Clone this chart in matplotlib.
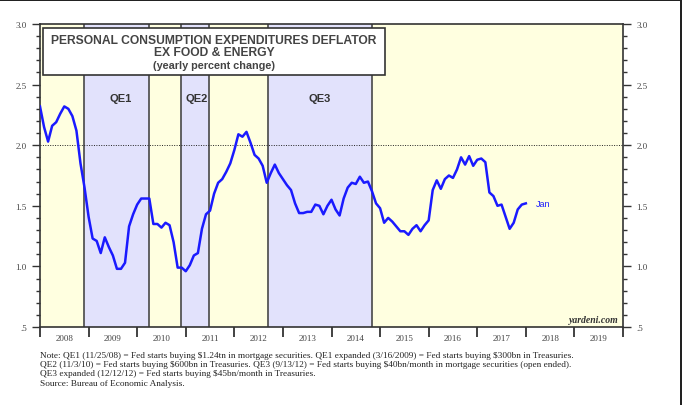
import matplotlib.pyplot as plt
import numpy as np
from matplotlib.patches import Rectangle
from matplotlib.ticker import MultipleLocator, FixedLocator, NullFormatter

# Core PCE deflator, y/y %, monthly Jan 2008 .. Jan 2018
pce_core = [
    2.32, 2.15, 2.03, 2.16, 2.19, 2.26, 2.32, 2.30, 2.24, 2.12, 1.85, 1.65,  # 2008
    1.41, 1.23, 1.21, 1.11, 1.24, 1.16, 1.09, 0.98, 0.98, 1.03, 1.33, 1.43,  # 2009
    1.51, 1.56, 1.56, 1.56, 1.35, 1.35, 1.32, 1.36, 1.34, 1.20, 0.99, 0.99,  # 2010
    0.96, 1.01, 1.09, 1.11, 1.31, 1.43, 1.46, 1.60, 1.69, 1.72, 1.78, 1.85,  # 2011
    1.96, 2.09, 2.07, 2.11, 2.02, 1.92, 1.89, 1.83, 1.69, 1.77, 1.84, 1.77,  # 2012
    1.72, 1.67, 1.63, 1.52, 1.44, 1.44, 1.45, 1.45, 1.51, 1.50, 1.43, 1.50,  # 2013
    1.55, 1.47, 1.42, 1.56, 1.65, 1.69, 1.68, 1.74, 1.69, 1.70, 1.62, 1.52,  # 2014
    1.48, 1.36, 1.40, 1.37, 1.33, 1.29, 1.29, 1.26, 1.31, 1.34, 1.29, 1.34,  # 2015
    1.38, 1.63, 1.71, 1.64, 1.72, 1.75, 1.73, 1.80, 1.90, 1.84, 1.91, 1.83,  # 2016
    1.88, 1.89, 1.86, 1.61, 1.58, 1.50, 1.51, 1.41, 1.31, 1.36, 1.47, 1.51,  # 2017
    1.52,                                                                    # 2018
]
dates = 2008 + np.arange(len(pce_core)) / 12.0

# QE programs (start, end) in decimal years
qe_labels = ["QE1", "QE2", "QE3"]
qe_start = [2008.90, 2010.90, 2012.70]
qe_end = [2010.25, 2011.48, 2014.83]
qe_label_x = [2009.65, 2011.23, 2013.76]

years = list(range(2008, 2020))

notes = (
    "Note: QE1 (11/25/08) = Fed starts buying $1.24tn in mortgage securities. "
    "QE1 expanded (3/16/2009) = Fed starts buying $300bn in Treasuries.\n"
    "QE2 (11/3/10) = Fed starts buying $600bn in Treasuries. "
    "QE3 (9/13/12) = Fed starts buying $40bn/month in mortgage securities (open ended).\n"
    "QE3 expanded (12/12/12) = Fed starts buying $45bn/month in Treasuries.\n"
    "Source: Bureau of Economic Analysis."
)

YELLOW = "#ffffe0"
LAVENDER = "#e2e2fc"
LINE = "#1a1aff"
GRAY = "#444444"

fig = plt.figure(figsize=(6.82, 4.06), dpi=100)
ax = fig.add_axes([40 / 682, 78 / 406, 583 / 682, 303 / 406])
ax.set_facecolor(YELLOW)

ax.set_xlim(2008, 2020)
ax.set_ylim(0.5, 3.0)

for s, e in zip(qe_start, qe_end):
    ax.axvspan(s, e, color=LAVENDER, zorder=0, lw=0)
    ax.axvline(s, color="#555555", lw=1.3, zorder=1)
    ax.axvline(e, color="#555555", lw=1.3, zorder=1)

for lab, x in zip(qe_labels, qe_label_x):
    ax.text(x, 2.39, lab, ha="center", va="center", fontsize=8,
            fontweight="bold", color="#333333", family="Liberation Sans")

ax.axhline(2.0, color="#222222", lw=0.7, ls=(0, (1, 1.5)), zorder=1)

ax.plot(dates, pce_core, color=LINE, lw=1.8, zorder=3)
ax.text(dates[-1] + 0.2, pce_core[-1], "Jan", color=LINE, fontsize=6.5,
        va="center", ha="left", family="Liberation Sans")

# title box
ax.add_patch(Rectangle((0.005, 0.832), 0.587, 0.155, transform=ax.transAxes,
                       facecolor="white", edgecolor="#333333", lw=1.2, zorder=4))
ax.text(0.2985, 0.946, "PERSONAL CONSUMPTION EXPENDITURES DEFLATOR",
        transform=ax.transAxes, ha="center", va="center", fontsize=8.7,
        fontweight="bold", color="#444444", family="Liberation Sans", zorder=5)
ax.text(0.2985, 0.907, "EX FOOD & ENERGY", transform=ax.transAxes,
        ha="center", va="center", fontsize=8.7, fontweight="bold",
        color="#444444", family="Liberation Sans", zorder=5)
ax.text(0.2985, 0.866, "(yearly percent change)", transform=ax.transAxes,
        ha="center", va="center", fontsize=7.8, fontweight="bold",
        color="#444444", family="Liberation Sans", zorder=5)

ax.text(0.993, 0.025, "yardeni.com", transform=ax.transAxes, ha="right",
        va="center", fontsize=7, style="italic", fontweight="bold",
        color="#333333", family="Liberation Serif")

# y axis both sides
yticks = [0.5, 1.0, 1.5, 2.0, 2.5, 3.0]
ylabels = [".5", "1.0", "1.5", "2.0", "2.5", "3.0"]
ax.yaxis.set_major_locator(FixedLocator(yticks))
ax.set_yticklabels(ylabels)
ax.yaxis.set_minor_locator(MultipleLocator(0.1))
ax.tick_params(axis="y", which="both", left=True, right=True, labelleft=True,
               labelright=True, direction="out", colors="#333333",
               labelcolor=GRAY, labelsize=6.5, width=1)
ax.tick_params(axis="y", which="major", length=6)
ax.tick_params(axis="y", which="minor", length=3)
for lab in ax.get_yticklabels():
    lab.set_family("Liberation Serif")

# x axis: ticks at year boundaries, labels mid-year
ax.xaxis.set_major_locator(FixedLocator(years + [2020]))
ax.xaxis.set_major_formatter(NullFormatter())
ax.xaxis.set_minor_locator(FixedLocator([y + 0.5 for y in years]))
ax.set_xticklabels([str(y) for y in years], minor=True)
ax.tick_params(axis="x", which="major", direction="out", length=7, width=1.3,
               colors="#333333")
ax.tick_params(axis="x", which="minor", length=0, labelsize=6.5,
               labelcolor=GRAY, pad=5)
for lab in ax.get_xticklabels(minor=True):
    lab.set_family("Liberation Serif")

for sp in ax.spines.values():
    sp.set_color("#333333")
    sp.set_linewidth(1.2)

fig.text(40 / 682, 1 - 352 / 406, notes, ha="left", va="top", fontsize=6.7,
         family="Liberation Serif", color="#222222", linespacing=1.2,
         parse_math=False)

# screenshot frame on top and right edges
fig.add_artist(Rectangle((0, 1 - 2 / 406), 1, 2 / 406, transform=fig.transFigure,
                         color="#222222", lw=0))
fig.add_artist(Rectangle((1 - 2 / 682, 0), 2 / 682, 1, transform=fig.transFigure,
                         color="#222222", lw=0))

fig.savefig("out.png", dpi=100)
